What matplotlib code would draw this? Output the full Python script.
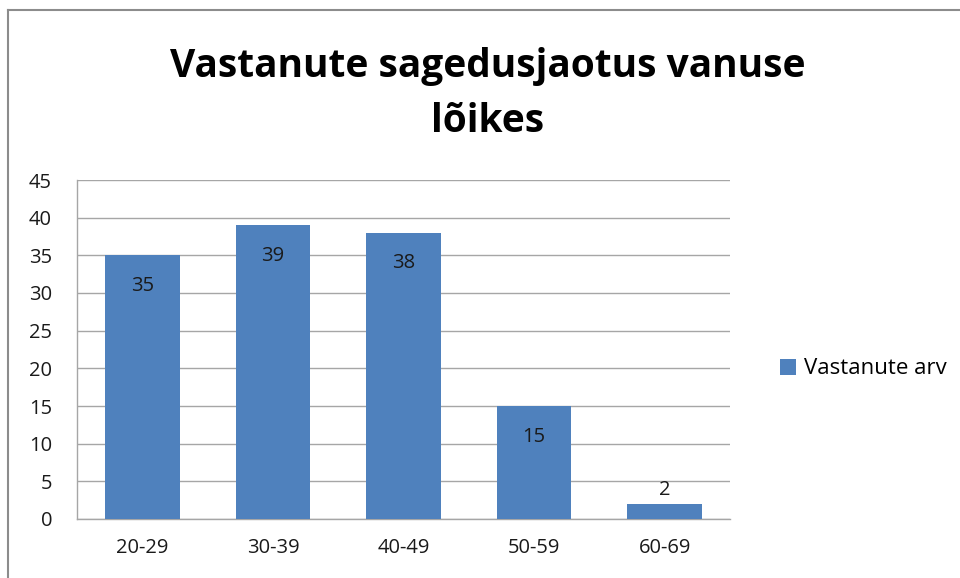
import matplotlib.pyplot as plt
from matplotlib.lines import Line2D
import numpy as np

categories = ['20-29', '30-39', '40-49', '50-59', '60-69']
counts = [35, 39, 38, 15, 2]
series_name = 'Vastanute arv'
title_lines = ['Vastanute sagedusjaotus vanuse', 'lõikes']

plt.rcParams['font.family'] = ['Open Sans', 'DejaVu Sans']

fig = plt.figure(figsize=(9.6, 5.78), dpi=100)
ax = fig.add_axes([77 / 960, 1 - 519 / 578, 653 / 960, 339 / 578])

x = np.arange(len(categories))
bars = ax.bar(x, counts, width=0.57, color='#4F81BD', label=series_name, zorder=3)

for rect, v in zip(bars, counts):
    cx = rect.get_x() + rect.get_width() / 2
    dy = -22 if v >= 5 else 10
    ax.annotate(str(v), (cx, v), xytext=(0, dy), textcoords='offset points',
                ha='center', va='center', fontsize=14.5, color='#1a1a1a', zorder=4)

ax.set_xlim(-0.5, len(categories) - 0.5)
ax.set_ylim(0, 45)
ax.set_yticks(range(0, 46, 5))
ax.set_xticks(x)
ax.set_xticklabels(categories)
ax.tick_params(axis='both', length=0, labelsize=14.5, colors='#1a1a1a')
ax.tick_params(axis='y', pad=18)
ax.tick_params(axis='x', pad=14)
ax.grid(axis='y', color='#a6a6a6', linewidth=1, zorder=0)
for s in ['top', 'right']:
    ax.spines[s].set_visible(False)
for s in ['left', 'bottom']:
    ax.spines[s].set_color('#a6a6a6')
    ax.spines[s].set_linewidth(1)

# two title lines, placed by baseline
for line, y_px in zip(title_lines, [77, 132]):
    fig.text(488 / 960, 1 - y_px / 578, line, ha='center', va='baseline', fontsize=28,
             fontweight='bold', color='black')

fig.legend(loc='center left', bbox_to_anchor=(760 / 960, 1 - 369 / 578), frameon=False,
           fontsize=16, handlelength=0.7, handleheight=0.7, handletextpad=0.4)

# chart border (top and left edges visible)
fig.add_artist(Line2D([8 / 960, 8 / 960], [0, 1 - 10 / 578], transform=fig.transFigure,
                      color='#8c8c8c', linewidth=1.5))
fig.add_artist(Line2D([8 / 960, 1], [1 - 10 / 578, 1 - 10 / 578], transform=fig.transFigure,
                      color='#8c8c8c', linewidth=1.5))

fig.savefig('out.png', dpi=100)
